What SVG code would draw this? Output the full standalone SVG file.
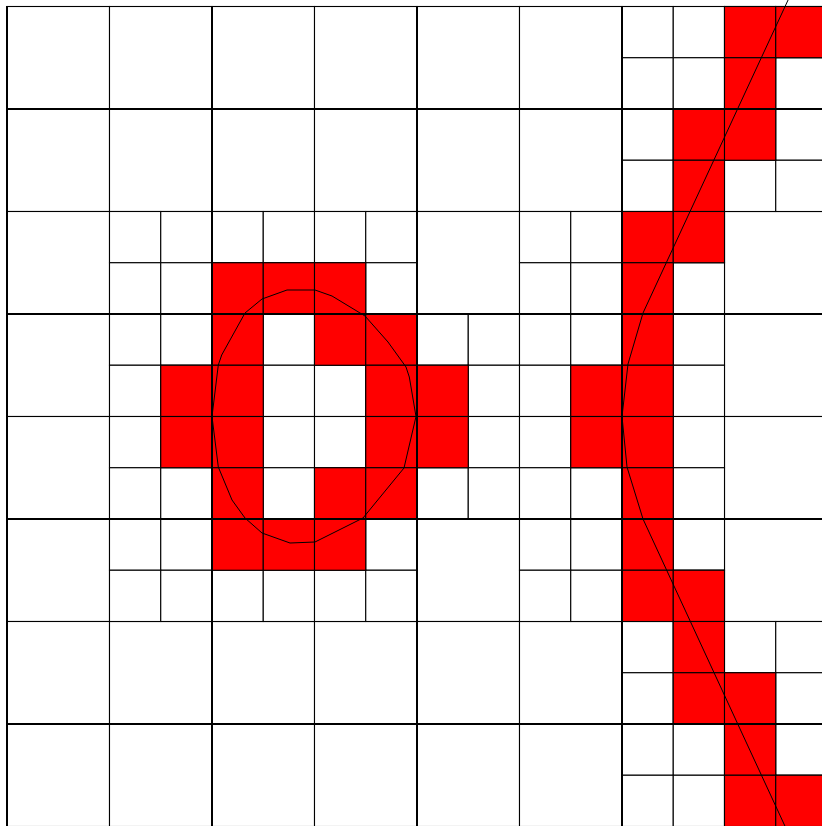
<svg xmlns="http://www.w3.org/2000/svg" xmlns:xlink="http://www.w3.org/1999/xlink" width="822" height="826" viewBox="0 0 822 826">
<style>
.w{fill:#ffffff;stroke:#000000;stroke-width:1.1}
.r{fill:#ff0000;stroke:#000000;stroke-width:1.1}
.c{fill:none;stroke:#000000;stroke-width:1}
.e{fill:none;stroke:#000000;stroke-width:2}
</style>
<defs>
<g id="q">
<rect class="w" x="0" y="0" width="51.25" height="51.25"/>
<rect class="w" x="51.25" y="0" width="51.25" height="51.25"/>
<rect class="w" x="0" y="51.25" width="51.25" height="51.25"/>
<rect class="w" x="51.25" y="51.25" width="51.25" height="51.25"/>
</g>
<rect id="b" class="w" x="0" y="0" width="102.5" height="102.5"/>
<rect id="f" class="r" x="0" y="0" width="51.25" height="51.25"/>
</defs>
<rect x="0" y="0" width="822" height="826" fill="#ffffff"/>
<g id="coarse-cells">
<use xlink:href="#b" x="7" y="6.5"/><use xlink:href="#b" x="109.5" y="6.5"/><use xlink:href="#b" x="212" y="6.5"/><use xlink:href="#b" x="314.5" y="6.5"/><use xlink:href="#b" x="417" y="6.5"/><use xlink:href="#b" x="519.5" y="6.5"/>
<use xlink:href="#b" x="7" y="109"/><use xlink:href="#b" x="109.5" y="109"/><use xlink:href="#b" x="212" y="109"/><use xlink:href="#b" x="314.5" y="109"/><use xlink:href="#b" x="417" y="109"/><use xlink:href="#b" x="519.5" y="109"/>
<use xlink:href="#b" x="7" y="211.5"/><use xlink:href="#b" x="417" y="211.5"/><use xlink:href="#b" x="724.5" y="211.5"/>
<use xlink:href="#b" x="7" y="314"/><use xlink:href="#b" x="724.5" y="314"/>
<use xlink:href="#b" x="7" y="416.5"/><use xlink:href="#b" x="724.5" y="416.5"/>
<use xlink:href="#b" x="7" y="519"/><use xlink:href="#b" x="417" y="519"/><use xlink:href="#b" x="724.5" y="519"/>
<use xlink:href="#b" x="7" y="621.5"/><use xlink:href="#b" x="109.5" y="621.5"/><use xlink:href="#b" x="212" y="621.5"/><use xlink:href="#b" x="314.5" y="621.5"/><use xlink:href="#b" x="417" y="621.5"/><use xlink:href="#b" x="519.5" y="621.5"/>
<use xlink:href="#b" x="7" y="724"/><use xlink:href="#b" x="109.5" y="724"/><use xlink:href="#b" x="212" y="724"/><use xlink:href="#b" x="314.5" y="724"/><use xlink:href="#b" x="417" y="724"/><use xlink:href="#b" x="519.5" y="724"/>
</g>
<g id="fine-cells">
<use xlink:href="#q" x="622" y="6.5"/><use xlink:href="#q" x="724.5" y="6.5"/>
<use xlink:href="#q" x="622" y="109"/><use xlink:href="#q" x="724.5" y="109"/>
<use xlink:href="#q" x="109.5" y="211.5"/><use xlink:href="#q" x="212" y="211.5"/><use xlink:href="#q" x="314.5" y="211.5"/><use xlink:href="#q" x="519.5" y="211.5"/><use xlink:href="#q" x="622" y="211.5"/>
<use xlink:href="#q" x="109.5" y="314"/><use xlink:href="#q" x="212" y="314"/><use xlink:href="#q" x="314.5" y="314"/><use xlink:href="#q" x="417" y="314"/><use xlink:href="#q" x="519.5" y="314"/><use xlink:href="#q" x="622" y="314"/>
<use xlink:href="#q" x="109.5" y="416.5"/><use xlink:href="#q" x="212" y="416.5"/><use xlink:href="#q" x="314.5" y="416.5"/><use xlink:href="#q" x="417" y="416.5"/><use xlink:href="#q" x="519.5" y="416.5"/><use xlink:href="#q" x="622" y="416.5"/>
<use xlink:href="#q" x="109.5" y="519"/><use xlink:href="#q" x="212" y="519"/><use xlink:href="#q" x="314.5" y="519"/><use xlink:href="#q" x="519.5" y="519"/><use xlink:href="#q" x="622" y="519"/>
<use xlink:href="#q" x="622" y="621.5"/><use xlink:href="#q" x="724.5" y="621.5"/>
<use xlink:href="#q" x="622" y="724"/><use xlink:href="#q" x="724.5" y="724"/>
</g>
<g id="red-cells">
<use xlink:href="#f" x="724.5" y="6.5"/><use xlink:href="#f" x="775.75" y="6.5"/>
<use xlink:href="#f" x="724.5" y="57.75"/>
<use xlink:href="#f" x="673.25" y="109"/><use xlink:href="#f" x="724.5" y="109"/>
<use xlink:href="#f" x="673.25" y="160.25"/>
<use xlink:href="#f" x="622" y="211.5"/><use xlink:href="#f" x="673.25" y="211.5"/>
<use xlink:href="#f" x="212" y="262.75"/><use xlink:href="#f" x="263.25" y="262.75"/><use xlink:href="#f" x="314.5" y="262.75"/><use xlink:href="#f" x="622" y="262.75"/>
<use xlink:href="#f" x="212" y="314"/><use xlink:href="#f" x="314.5" y="314"/><use xlink:href="#f" x="365.75" y="314"/><use xlink:href="#f" x="622" y="314"/>
<use xlink:href="#f" x="160.75" y="365.25"/><use xlink:href="#f" x="212" y="365.25"/><use xlink:href="#f" x="365.75" y="365.25"/><use xlink:href="#f" x="417" y="365.25"/><use xlink:href="#f" x="570.75" y="365.25"/><use xlink:href="#f" x="622" y="365.25"/>
<use xlink:href="#f" x="160.75" y="416.5"/><use xlink:href="#f" x="212" y="416.5"/><use xlink:href="#f" x="365.75" y="416.5"/><use xlink:href="#f" x="417" y="416.5"/><use xlink:href="#f" x="570.75" y="416.5"/><use xlink:href="#f" x="622" y="416.5"/>
<use xlink:href="#f" x="212" y="467.75"/><use xlink:href="#f" x="314.5" y="467.75"/><use xlink:href="#f" x="365.75" y="467.75"/><use xlink:href="#f" x="622" y="467.75"/>
<use xlink:href="#f" x="212" y="519"/><use xlink:href="#f" x="263.25" y="519"/><use xlink:href="#f" x="314.5" y="519"/><use xlink:href="#f" x="622" y="519"/>
<use xlink:href="#f" x="622" y="570.25"/><use xlink:href="#f" x="673.25" y="570.25"/>
<use xlink:href="#f" x="673.25" y="621.5"/>
<use xlink:href="#f" x="673.25" y="672.75"/><use xlink:href="#f" x="724.5" y="672.75"/>
<use xlink:href="#f" x="724.5" y="724"/>
<use xlink:href="#f" x="724.5" y="775.25"/><use xlink:href="#f" x="775.75" y="775.25"/>
</g>
<g id="block-edges">
<path class="e" d="M7,6 V826 M212,6 V826 M417,6 V826 M622,6 V826 M7,109 H822 M7,314 H822 M7,519 H822 M7,724 H822"/>
</g>
<g id="curves">
<polygon class="c" points="212,416.5 218.3,365 221.7,355 245,313 262,299 287,290 315,290 332,296 365,316 388,342 406,367 409.3,377 416,416.5 404,468 363,518 315,542 290,543 262,533 245,518 232,500 218.3,467"/>
<polyline class="c" points="789,-2 643,313 628,364 622,416.5 627,467 643,519 790,837"/>
</g>
</svg>
